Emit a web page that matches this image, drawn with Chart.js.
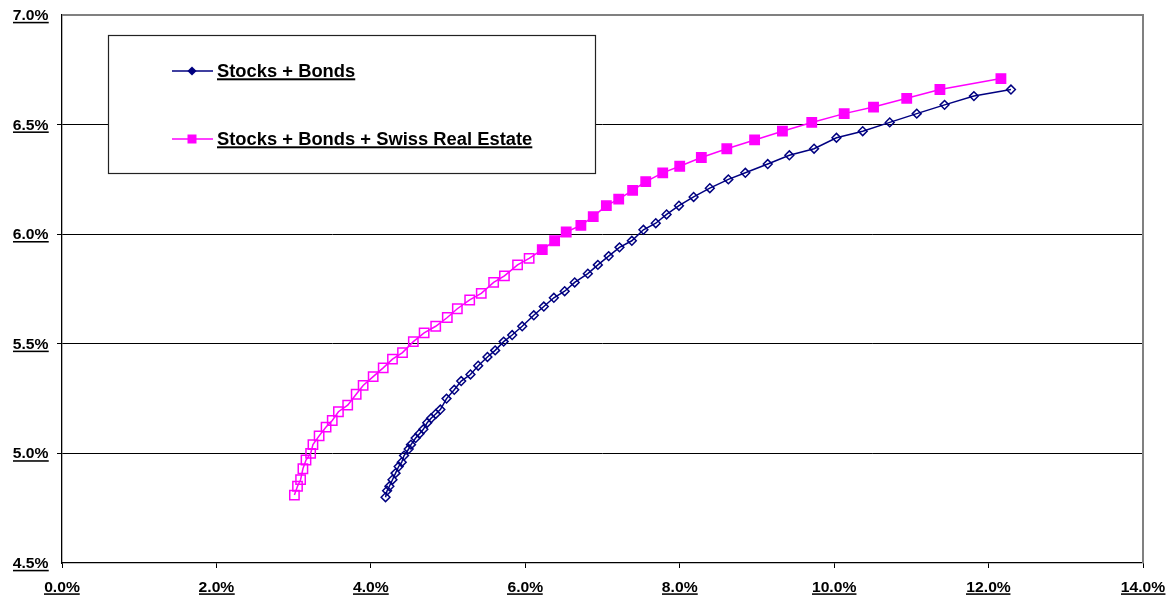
<!DOCTYPE html>
<html>
<head>
<meta charset="utf-8">
<title>Efficient frontier</title>
<script src="https://cdn.jsdelivr.net/npm/chart.js@4.4.1/dist/chart.umd.min.js"></script>
<style>
  html, body { margin: 0; padding: 0; background: #ffffff; }
  canvas { display: block; }
</style>
</head>
<body>
<canvas id="frontier" width="1175" height="598"></canvas>
<script>
// Risk (x, %) and expected return (y, %) along each efficient frontier
const stockBondRisk = [4.19, 4.21, 4.24, 4.28, 4.32, 4.36, 4.40, 4.43, 4.49, 4.52,
  4.58, 4.63, 4.68, 4.73, 4.78, 4.84, 4.90, 4.98, 5.08, 5.17,
  5.29, 5.39, 5.51, 5.61, 5.72, 5.83, 5.96, 6.11, 6.24, 6.37,
  6.51, 6.64, 6.81, 6.94, 7.08, 7.22, 7.38, 7.53, 7.69, 7.83,
  7.99, 8.18, 8.39, 8.63, 8.85, 9.14, 9.42, 9.74, 10.03, 10.37,
  10.72, 11.07, 11.43, 11.81, 12.29];
const stockBondReturn = [4.80, 4.83, 4.85, 4.88, 4.91, 4.94, 4.96, 4.99, 5.02, 5.04,
  5.07, 5.09, 5.11, 5.14, 5.16, 5.18, 5.20, 5.25, 5.29, 5.33,
  5.36, 5.40, 5.44, 5.47, 5.51, 5.54, 5.58, 5.63, 5.67, 5.71,
  5.74, 5.78, 5.82, 5.86, 5.90, 5.94, 5.97, 6.02, 6.05, 6.09,
  6.13, 6.17, 6.21, 6.25, 6.28, 6.32, 6.36, 6.39, 6.44, 6.47,
  6.51, 6.55, 6.59, 6.63, 6.66];

const realEstateRisk = [3.01, 3.05, 3.09, 3.12, 3.16, 3.22, 3.25, 3.33, 3.42, 3.50,
  3.58, 3.70, 3.81, 3.90, 4.03, 4.16, 4.28, 4.41, 4.55, 4.69,
  4.84, 4.99, 5.12, 5.28, 5.43, 5.59, 5.73, 5.90, 6.05, 6.22,
  6.38, 6.53, 6.72, 6.88, 7.05, 7.21, 7.39, 7.56, 7.78, 8.00,
  8.28, 8.61, 8.97, 9.33, 9.71, 10.13, 10.51, 10.94, 11.37, 12.16];
const realEstateReturn = [4.81, 4.85, 4.88, 4.93, 4.97, 5.00, 5.04, 5.08, 5.12, 5.15,
  5.19, 5.22, 5.27, 5.31, 5.35, 5.39, 5.43, 5.46, 5.51, 5.55,
  5.58, 5.62, 5.66, 5.70, 5.73, 5.78, 5.81, 5.86, 5.89, 5.93,
  5.97, 6.01, 6.04, 6.08, 6.13, 6.16, 6.20, 6.24, 6.28, 6.31,
  6.35, 6.39, 6.43, 6.47, 6.51, 6.55, 6.58, 6.62, 6.66, 6.71];

const seriesLabels = ['Stocks + Bonds', 'Stocks + Bonds + Swiss Real Estate'];
const xTickValues = [0, 2, 4, 6, 8, 10, 12, 14];
const yTickValues = [4.5, 5.0, 5.5, 6.0, 6.5, 7.0];

// Portfolios with real estate are drawn with solid markers from this point on
const solidMarkerFrom = 29;

const NAVY = '#000080';
const MAGENTA = '#FF00FF';
const FONT_FAMILY = '"Liberation Sans", Arial, sans-serif';

function toPoints(xs, ys) {
  return xs.map((x, i) => ({ x: x, y: ys[i] }));
}
function pct(v) {
  return v.toFixed(1) + '%';
}

// Bold underlined text, slightly widened
function underlinedText(ctx, text, x, y, size, align, stretch) {
  ctx.save();
  ctx.font = 'bold ' + size + 'px ' + FONT_FAMILY;
  ctx.fillStyle = '#000';
  ctx.textBaseline = 'alphabetic';
  ctx.textAlign = 'left';
  const w = ctx.measureText(text).width * stretch;
  let left = x;
  if (align === 'center') left = x - w / 2;
  else if (align === 'right') left = x - w;
  ctx.translate(left, y);
  ctx.scale(stretch, 1);
  ctx.fillText(text, 0, 0);
  ctx.restore();
  ctx.fillStyle = '#000';
  ctx.fillRect(Math.round(left), y + 1.8, w, Math.max(1.5, size / 9));
}

// Tick labels of both axes, bold and underlined
const tickLabelPlugin = {
  id: 'tickLabels',
  afterDraw(chart) {
    const ctx = chart.ctx;
    const xs = chart.scales.x, ys = chart.scales.y;
    xs.ticks.forEach(t => {
      underlinedText(ctx, pct(t.value), xs.getPixelForValue(t.value), 591.5, 14, 'center', 1.12);
    });
    ys.ticks.forEach(t => {
      underlinedText(ctx, pct(t.value), 48.5, ys.getPixelForValue(t.value) + 5, 14, 'right', 1.12);
    });
  }
};

// Grey frame on the top and right of the plot area
const frameEdgePlugin = {
  id: 'frameEdge',
  beforeDatasetsDraw(chart) {
    const { ctx, chartArea: a } = chart;
    ctx.save();
    ctx.strokeStyle = '#808080';
    ctx.lineWidth = 2;
    ctx.beginPath();
    ctx.moveTo(a.left, a.top);
    ctx.lineTo(a.right, a.top);
    ctx.lineTo(a.right, a.bottom);
    ctx.stroke();
    ctx.restore();
  }
};

// Boxed legend inside the plot area
const boxLegendPlugin = {
  id: 'boxLegend',
  afterDraw(chart) {
    const ctx = chart.ctx;
    const box = { x: 108.5, y: 35.5, w: 487, h: 138 };
    ctx.save();
    ctx.fillStyle = '#fff';
    ctx.fillRect(box.x, box.y, box.w, box.h);
    ctx.strokeStyle = '#222';
    ctx.lineWidth = 1.2;
    ctx.strokeRect(box.x, box.y, box.w, box.h);
    const rows = [76.5, 144.5];
    chart.data.datasets.forEach((ds, i) => {
      const base = rows[i];
      const my = base - 5.5;
      ctx.strokeStyle = ds.borderColor;
      ctx.lineWidth = 1.6;
      ctx.beginPath();
      ctx.moveTo(172, my);
      ctx.lineTo(213, my);
      ctx.stroke();
      ctx.fillStyle = ds.borderColor;
      ctx.beginPath();
      if (ds.pointStyle === 'rectRot') {
        const r = 4.6;
        ctx.moveTo(192 - r, my);
        ctx.lineTo(192, my - r);
        ctx.lineTo(192 + r, my);
        ctx.lineTo(192, my + r);
        ctx.closePath();
      } else {
        ctx.rect(192 - 4.5, my - 4.5, 9, 9);
      }
      ctx.fill();
      underlinedText(ctx, ds.label, 217, base, 18, 'left', 1.02);
    });
    ctx.restore();
  }
};

new Chart(document.getElementById('frontier'), {
  type: 'scatter',
  data: {
    datasets: [
      {
        label: seriesLabels[0],
        data: toPoints(stockBondRisk, stockBondReturn),
        showLine: true,
        borderColor: NAVY,
        borderWidth: 1.5,
        tension: 0,
        pointStyle: 'rectRot',
        pointRadius: 4.4,
        pointBorderWidth: 1.5,
        pointBorderColor: NAVY,
        pointBackgroundColor: 'rgba(0,0,0,0)'
      },
      {
        label: seriesLabels[1],
        data: toPoints(realEstateRisk, realEstateReturn),
        showLine: true,
        borderColor: MAGENTA,
        borderWidth: 1.5,
        tension: 0,
        pointStyle: 'rect',
        pointRadius: 6.6,
        pointBorderWidth: 1.5,
        pointBorderColor: MAGENTA,
        pointBackgroundColor: c => (c.dataIndex >= solidMarkerFrom ? MAGENTA : 'rgba(0,0,0,0)')
      }
    ]
  },
  options: {
    responsive: false,
    animation: false,
    events: [],
    layout: { padding: { top: 15, right: 32, left: 0, bottom: 0 } },
    plugins: { legend: { display: false }, tooltip: { enabled: false } },
    scales: {
      x: {
        type: 'linear',
        min: 0,
        max: 14,
        afterBuildTicks: s => { s.ticks = xTickValues.map(v => ({ value: v })); },
        afterFit: s => { s.height = 35; },
        grid: { display: true, drawOnChartArea: false, drawTicks: true, tickLength: 5, color: '#000', lineWidth: 1 },
        border: { display: true, color: '#000', width: 1.3 },
        ticks: { display: false }
      },
      y: {
        type: 'linear',
        min: 4.5,
        max: 7.0,
        afterBuildTicks: s => { s.ticks = yTickValues.map(v => ({ value: v })); },
        afterFit: s => { s.width = 62; },
        grid: {
          display: true,
          drawTicks: true,
          tickLength: 5,
          lineWidth: 1,
          color: c => (c.tick && (c.tick.value === 7.0 || c.tick.value === 4.5) && c.type === 'tick' ? 'rgba(0,0,0,0)' : '#000')
        },
        border: { display: true, color: '#000', width: 1.3 },
        ticks: { display: false }
      }
    }
  },
  plugins: [frameEdgePlugin, tickLabelPlugin, boxLegendPlugin]
});
</script>
</body>
</html>
